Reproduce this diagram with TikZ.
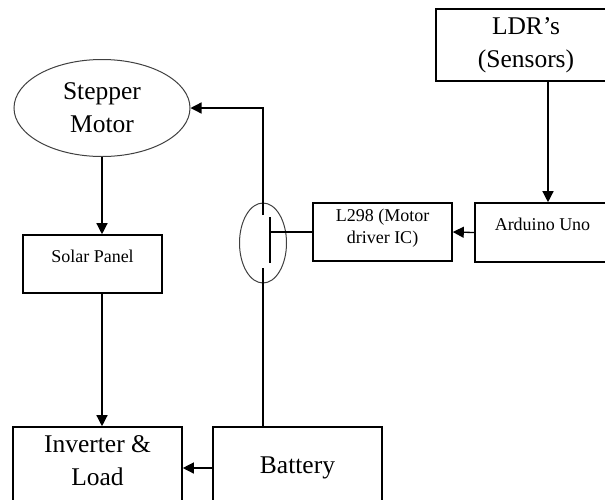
\documentclass[tikz,border=0pt]{standalone}
\usepackage{fontspec}
\setmainfont{Liberation Serif}
\usepackage{tikz}
\usetikzlibrary{arrows.meta,positioning,calc,shapes.geometric}

\begin{document}
\begin{tikzpicture}[x=1pt, y=-1pt, line width=1.3pt,
  ar/.style={-{Triangle[length=11pt, width=11pt]}},
  box/.style={draw, line width=1.6pt, inner sep=0pt},
  big/.style={font=\fontsize{25.5}{33}\selectfont, align=center},
  small/.style={font=\fontsize{18}{22}\selectfont, align=center},
  oval/.style={ellipse, draw=black!75, line width=1pt, inner sep=0pt}]
  \useasboundingbox (0,0) rectangle (605,499);
  \clip (0,0) rectangle (605,499);
  % blocks, placed at pixel centres (y grows downwards)
  \node[oval, big, minimum width=176pt, minimum height=97pt] (motor) at (102,108) {Stepper\\Motor};
  \node[box, big, minimum width=180pt, minimum height=72pt] (ldr) at (526,45) {LDR’s\\(Sensors)};
  \node[box, small, minimum width=139pt, minimum height=58pt, text height=40pt, text depth=18pt] (drv) at (382.5,232) {L298 (Motor\\driver IC)};
  \node[box, small, minimum width=135pt, minimum height=59pt, text height=12pt, text depth=17pt] (ard) at (542.5,232.5) {Arduino Uno};
  \node[box, small, minimum width=139pt, minimum height=58pt, text height=12pt, text depth=16pt] (solar) at (92.5,264) {Solar Panel};
  \node[box, big, minimum width=169pt, minimum height=82pt, text height=52pt, text depth=18pt] (inv) at (97.5,468) {Inverter \&\\Load};
  \node[box, big, minimum width=169pt, minimum height=82pt] (bat) at (297.5,468) {Battery};
  % switch
  \node[oval, minimum width=47pt, minimum height=80pt] (sw) at (263,243) {};
  \coordinate (swbar) at (270,234);
  % connectors
  \draw[ar] (motor.south) -- (motor.south |- solar.north);
  \draw[ar] (motor.south |- solar.south) -- (motor.south |- inv.north);
  \draw[ar] ([xshift=22pt]ldr.south) -- ([xshift=22pt]ldr.south |- ard.north);
  \draw[ar] (ard.west) -- (drv.east);
  \draw[ar] (bat.west) -- (inv.east);
  \draw (drv.west) -- (drv.west -| swbar);
  \draw ([yshift=17pt]swbar) -- ([yshift=-29pt]swbar);
  \draw[ar] ([yshift=28pt]sw.center) -- (sw.center |- motor.east) -- (motor.east);
  \draw ([yshift=-25pt]sw.center) -- (sw.center |- bat.north);
\end{tikzpicture}
\end{document}
